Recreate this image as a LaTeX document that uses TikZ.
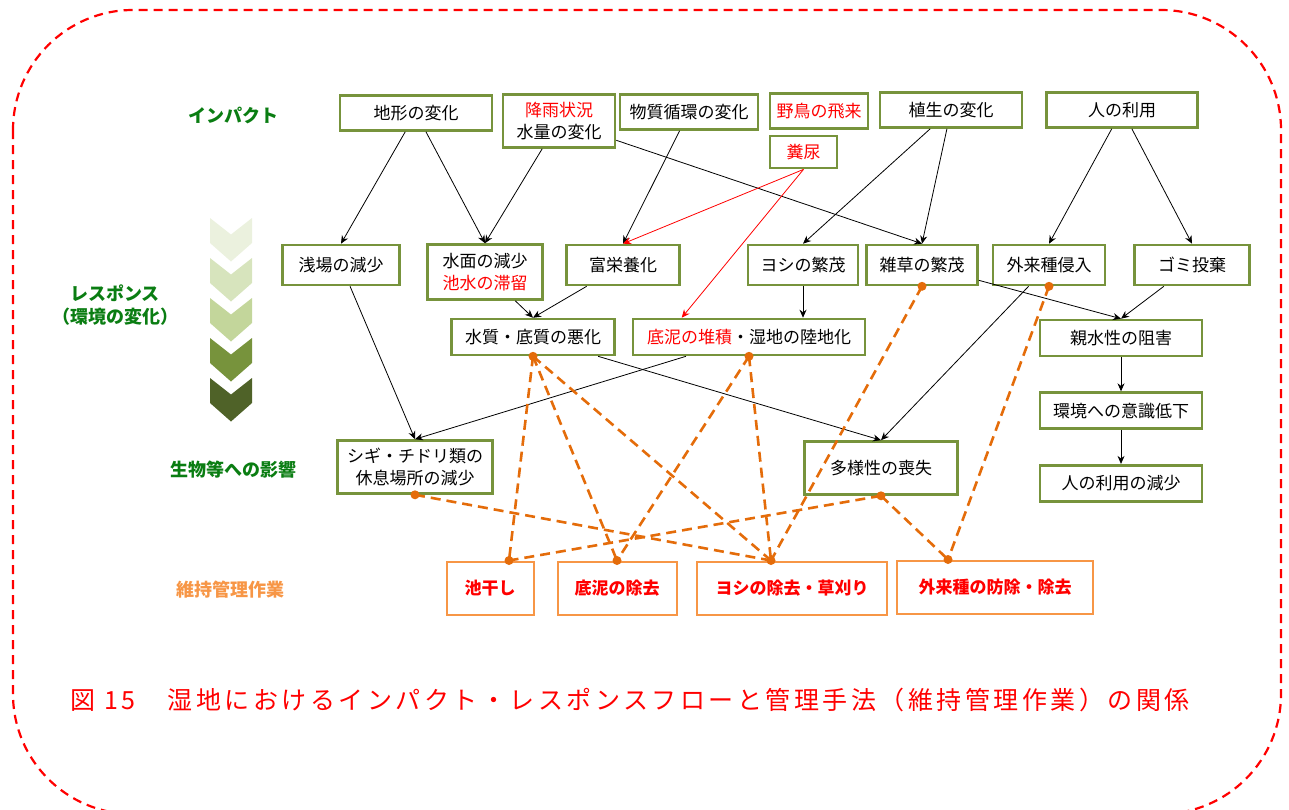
\documentclass[tikz,border=0pt]{standalone}
\usepackage{fontspec}
\setmainfont{Noto Sans CJK JP}
\newfontfamily\capfont{Noto Sans CJK JP}[LetterSpace=14]
\usetikzlibrary{positioning,calc,arrows.meta}

\definecolor{boxgreen}{HTML}{77933C}
\definecolor{labgreen}{HTML}{0A7D12}
\definecolor{mgmtorange}{HTML}{F79646}
\definecolor{linkorange}{HTML}{E46C0A}
\definecolor{chevA}{HTML}{EBF1DE}
\definecolor{chevB}{HTML}{D7E4BD}
\definecolor{chevC}{HTML}{C3D69B}
\definecolor{chevD}{HTML}{77933C}
\definecolor{chevE}{HTML}{4F6228}
\newcommand\boxfont{\fontsize{17}{22}\selectfont}
\newcommand\labfont{\fontsize{18}{23}\selectfont\bfseries}

\begin{document}
\begin{tikzpicture}[x=1pt,y=-1pt,
    impbox/.style={draw=boxgreen,line width=2.6pt,fill=white,align=center,
      font=\boxfont,inner sep=2pt},
    mgmtbox/.style={draw=mgmtorange,line width=2pt,fill=white,align=center,
      font=\boxfont\bfseries,text=red,inner sep=2pt,minimum height=53pt},
    stagelabel/.style={align=center,font=\labfont,text=labgreen},
    ]
  \useasboundingbox (0,0) rectangle (1289,809);
  \draw[red,line width=2.2pt,dash pattern=on 9pt off 6pt,rounded corners=120pt]
    (13,10) rectangle (1281,814);

  % stage labels and chevrons
  \node[stagelabel] (lab-impact)   at (233,115) {インパクト};
  \node[stagelabel] (lab-response) at (115,305) {レスポンス\\（環境の変化）};
  \node[stagelabel] (lab-effect)   at (233,470) {生物等への影響};
  \node[stagelabel,text=mgmtorange] (lab-mgmt) at (230,590) {維持管理作業};
  \foreach \c [count=\i from 0] in {chevA,chevB,chevC,chevD,chevE}
    \fill[\c] (210,{218+40*\i}) -- ++(21,16.5) -- ++(21,-16.5) -- ++(0,25)
      -- ++(-21,18.5) -- ++(-21,-18.5) -- cycle;

  % impact
  \begin{scope}[every node/.style={impbox,minimum height=35pt}]
    \node[minimum width=152pt] (terrain) at (416,113) {地形の変化};
    \node[minimum width=112pt,minimum height=53pt] (rain) at (559,121)
      {{\color{red}降雨状況}\\水量の変化};
    \node[minimum width=138pt] (cycle) at (689,112) {物質循環の変化};
    \node[minimum width=98pt,text=red] (birds) at (819,111) {野鳥の飛来};
    \node[minimum width=67pt,minimum height=32pt,text=red,
      below right=5pt and 0pt of birds.south west] (dung) {糞尿};
    \node[minimum width=142pt] (veget) at (951,110) {植生の変化};
    \node[minimum width=151pt] (human) at (1122,110) {人の利用};
  \end{scope}

  % response
  \begin{scope}[every node/.style={impbox,minimum height=40pt}]
    \node[minimum width=117pt] (shallow) at (341,265) {浅場の減少};
    \node[minimum width=115pt,minimum height=55pt] (surface) at (485,272)
      {水面の減少\\{\color{red}池水の滞留}};
    \node[minimum width=113pt] (eutroph) at (623,265) {富栄養化};
    \node[minimum width=110pt] (reed)    at (803,265) {ヨシの繁茂};
    \node[minimum width=111pt] (weed)    at (922,265) {雑草の繁茂};
    \node[minimum width=112pt] (alien)   at (1049,265) {外来種侵入};
    \node[minimum width=115pt] (litter)  at (1192,265) {ゴミ投棄};
  \end{scope}
  \begin{scope}[every node/.style={impbox,minimum height=36pt}]
    \node[minimum width=163pt] (quality)  at (533,337) {水質・底質の悪化};
    \node[minimum width=232pt] (sediment) at (749,337)
      {{\color{red}底泥の堆積}・湿地の陸地化};
    \node[minimum width=162pt] (waterside) at (1121,338) {親水性の阻害};
    \node[minimum width=162pt,below=34pt of waterside] (awareness) {環境への意識低下};
    \node[minimum width=162pt,below=34pt of awareness] (use-decline) {人の利用の減少};
  \end{scope}

  % effect on wildlife
  \begin{scope}[every node/.style={impbox,minimum height=53pt}]
    \node[minimum width=155pt] (shorebird) at (415,467)
      {シギ・チドリ類の\\休息場所の減少};
    \node[minimum width=153pt] (diversity) at (881,468) {多様性の喪失};
  \end{scope}

  % management work
  \node[mgmtbox,minimum width=87pt]  (drying)     at (490,588) {池干し};
  \node[mgmtbox,minimum width=119pt] (dredge)     at (617,588) {底泥の除去};
  \node[mgmtbox,minimum width=190pt] (mowing)     at (792,588) {ヨシの除去・草刈り};
  \node[mgmtbox,minimum width=196pt] (alien-ctrl) at (995,587) {外来種の防除・除去};

  \coordinate (sed-in)   at ($(sediment.north west)+(50,0)$);
  \coordinate (d-drying) at ($(drying.north)+(19,0)$);
  \coordinate (d-mowing) at ($(mowing.north)+(-21,0)$);
  \coordinate (d-alien)  at ($(alien-ctrl.north)+(-47,0)$);

  \begin{scope}[
    every edge/.style={draw,line width=0.8pt},
    >={Stealth[length=8pt,width=7pt]},
    ]
    \path[->]
    (terrain)    edge (shallow.north)
    (terrain)    edge (surface.north)
    (rain)       edge (surface.north)
    (rain)       edge (weed.north)
    (cycle)      edge (eutroph.north)
    (veget)      edge (reed.north)
    (veget)      edge (weed.north)
    (human)      edge (alien.north)
    (human)      edge (litter.north)
    (surface)    edge (quality.north)
    (eutroph)    edge (quality.north)
    (reed)       edge (reed.south |- sediment.north)
    (weed)       edge (waterside.north)
    (litter)     edge (waterside.north)
    (alien)      edge (diversity.north)
    (shallow)    edge (shorebird.north)
    (quality)    edge (diversity.north)
    (sediment)   edge (shorebird.north)
    (waterside)  edge (awareness)
    (awareness)  edge (use-decline);
    \path[->,red]
    (dung.south) edge (eutroph.north)
    (dung.south) edge (sed-in);
  \end{scope}

  \begin{scope}[
    every edge/.style={draw=linkorange,line width=2.6pt,dash pattern=on 10pt off 6pt},
    ]
    \path
    (quality.south)   edge (d-drying)
    (quality.south)   edge (dredge.north)
    (quality.south)   edge (d-mowing)
    (sediment.south)  edge (dredge.north)
    (sediment.south)  edge (d-mowing)
    (weed.south)      edge (d-mowing)
    (shorebird.south) edge (d-mowing)
    (diversity.south) edge (d-drying)
    (diversity.south) edge (d-alien)
    (alien.south)     edge (d-alien);
  \end{scope}
  \foreach \p in {quality.south,sediment.south,weed.south,alien.south,
    shorebird.south,diversity.south,d-drying,dredge.north,d-mowing,d-alien}
    \fill[linkorange] (\p) circle[radius=4.5];

  \node[text=red,font=\capfont\fontsize{25}{30}\selectfont] (caption) at (630,700)
    {図 15　湿地におけるインパクト・レスポンスフローと管理手法（維持管理作業）の関係};
\end{tikzpicture}
\end{document}
